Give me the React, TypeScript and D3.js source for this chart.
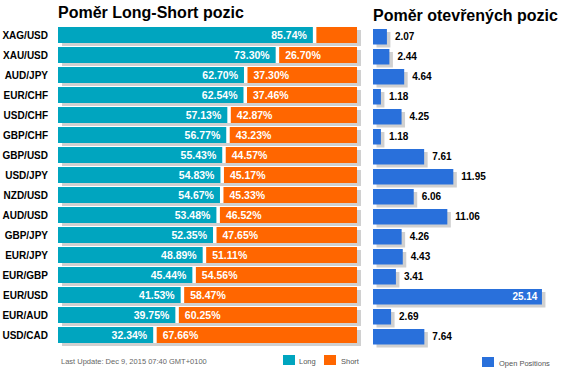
import React from "react";
import * as d3 from "d3";

const pairs = ["XAG/USD","XAU/USD","AUD/JPY","EUR/CHF","USD/CHF","GBP/CHF","GBP/USD","USD/JPY","NZD/USD","AUD/USD","GBP/JPY","EUR/JPY","EUR/GBP","EUR/USD","EUR/AUD","USD/CAD"];
const longPct = [85.74,73.30,62.70,62.54,57.13,56.77,55.43,54.83,54.67,53.48,52.35,48.89,45.44,41.53,39.75,32.34];
const shortPct = [14.26,26.70,37.30,37.46,42.87,43.23,44.57,45.17,45.33,46.52,47.65,51.11,54.56,58.47,60.25,67.66];
const openPos = [2.07,2.44,4.64,1.18,4.25,1.18,7.61,11.95,6.06,11.06,4.26,4.43,3.41,25.14,2.69,7.64];

const leftTitle = "Poměr Long-Short pozic";
const rightTitle = "Poměr otevřených pozic";
const footer = "Last Update: Dec 9, 2015 07:40 GMT+0100";

const LONG = "#00a5bf";
const SHORT = "#ff6600";
const BLUE = "#2970db";
const SHADOW = "#d0d0d0";
const FONT = "'Liberation Sans', Arial, sans-serif";

export default function App() {
  const W = 566, H = 377;
  const y = d3.scaleBand<string>().domain(pairs).range([25, 345]).paddingInner(0.2).paddingOuter(0.1);
  const xL = d3.scaleLinear().domain([0, 100]).range([58, 357]);
  const xR = d3.scaleLinear().domain([0, 25]).range([373, 541]);
  const bw = y.bandwidth();

  return (
    <svg width={W} height={H} style={{ position: "absolute", left: 0, top: 0, fontFamily: FONT }}>
      <rect x={0} y={0} width={W} height={H} fill="#fff" />
      <text x={58} y={17.5} fontSize={16} fontWeight="bold" fill="#000">{leftTitle}</text>
      <text x={373} y={20.5} fontSize={16} fontWeight="bold" fill="#000">{rightTitle}</text>

      {pairs.map((p, i) => {
        const y0 = y(p)!;
        const x0 = xL(0), x1 = xL(100), xm = xL(longPct[i]);
        const lw = xm - x0 - 1.5;
        const sx = xm + 2;
        const sw = x1 - sx;
        const showShort = sw > 45;
        return (
          <g key={p}>
            <text x={48} y={y0 + bw / 2 + 3.5} fontSize={10} fontWeight="bold" textAnchor="end" fill="#000">{p}</text>
            <rect x={x0 + 4} y={y0 + 3} width={x1 - x0} height={bw} fill={SHADOW} />
            <rect x={x0} y={y0} width={x1 - x0} height={bw} fill="#fff" />
            <rect x={x0} y={y0} width={lw} height={bw} fill={LONG} />
            <rect x={sx} y={y0} width={sw} height={bw} fill={SHORT} />
            <text x={x0 + lw - 6} y={y0 + bw / 2 + 4} fontSize={10.5} fontWeight="bold" textAnchor="end" fill="#fff">{longPct[i].toFixed(2)}%</text>
            {showShort && (
              <text x={sx + 6} y={y0 + bw / 2 + 4} fontSize={10.5} fontWeight="bold" fill="#fff">{shortPct[i].toFixed(2)}%</text>
            )}
          </g>
        );
      })}

      {pairs.map((p, i) => {
        const y0 = y(p)! + 2;
        const h = bw - 0.5;
        const x0 = xR(0), xe = xR(openPos[i]);
        const inside = openPos[i] > 20;
        return (
          <g key={"r" + p}>
            <rect x={x0 + 3.5} y={y0 + 3} width={xe - x0} height={h} fill={SHADOW} />
            <rect x={x0} y={y0} width={xe - x0} height={h} fill={BLUE} />
            {inside ? (
              <text x={xe - 4.5} y={y0 + h / 2 + 3.5} fontSize={10} fontWeight="bold" textAnchor="end" fill="#fff">{openPos[i].toFixed(2)}</text>
            ) : (
              <text x={xe + 8} y={y0 + h / 2 + 3.5} fontSize={10} fontWeight="bold" fill="#000" stroke="#fff" strokeWidth={0.4} paintOrder="stroke">{openPos[i].toFixed(2)}</text>
            )}
          </g>
        );
      })}

      <text x={61} y={364} fontSize={7.5} fill="#666">{footer}</text>
      <rect x={283} y={355} width={12} height={10} fill={LONG} />
      <text x={299} y={363.5} fontSize={7.5} fill="#555">Long</text>
      <rect x={324} y={355} width={12} height={10} fill={SHORT} />
      <text x={341} y={363.5} fontSize={7.5} fill="#555">Short</text>
      <rect x={482} y={357} width={12} height={10} fill={BLUE} />
      <text x={499} y={365.5} fontSize={7.5} fill="#555">Open Positions</text>
    </svg>
  );
}
